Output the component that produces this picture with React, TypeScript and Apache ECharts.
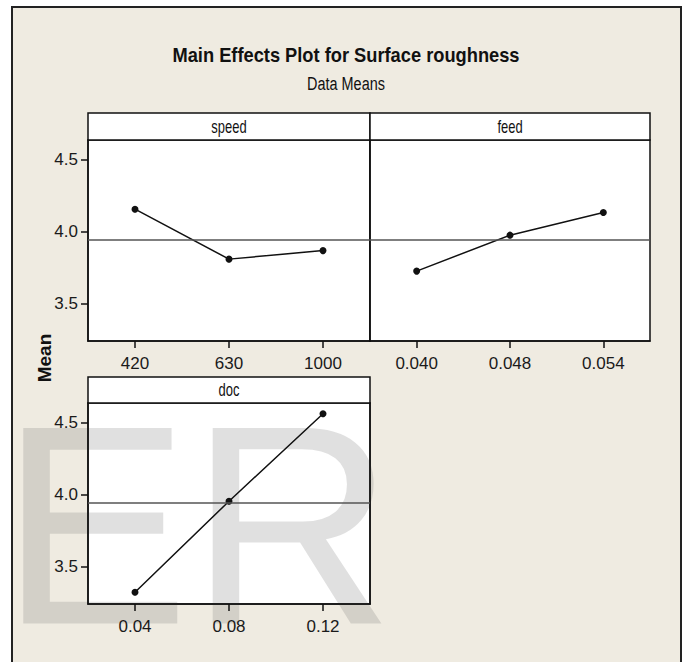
import React, { useEffect, useRef } from 'react';
import * as echarts from 'echarts';

// ---- data ----
const speedLevels = ['420', '630', '1000'];
const speedMeans = [4.155, 3.809, 3.868];
const feedLevels = ['0.040', '0.048', '0.054'];
const feedMeans = [3.726, 3.975, 4.132];
const docLevels = ['0.04', '0.08', '0.12'];
const docMeans = [3.323, 3.954, 4.56];
const panelNames = ['speed', 'feed', 'doc'];
const yTicks = [3.5, 4.0, 4.5];
const yMin = 3.242;
const yMax = 4.634;

const grandMean = speedMeans.reduce((a, b) => a + b, 0) / speedMeans.length;

const SANS = "'Liberation Sans', Arial, sans-serif";
const INK = '#111';

export default function App() {
  const ref = useRef<HTMLDivElement>(null);
  useEffect(() => {
    const chart = echarts.init(ref.current!, null, { renderer: 'svg' });
    const panels = [
      { levels: speedLevels, means: speedMeans, plot: { left: 88, top: 140, width: 282, height: 201 }, head: { left: 88, top: 113, width: 282, height: 27 }, yLabels: true },
      { levels: feedLevels, means: feedMeans, plot: { left: 370, top: 140, width: 280, height: 201 }, head: { left: 370, top: 113, width: 280, height: 27 }, yLabels: false },
      { levels: docLevels, means: docMeans, plot: { left: 88, top: 403, width: 282, height: 201 }, head: { left: 88, top: 377, width: 282, height: 26 }, yLabels: true },
    ];
    const lineStyle = { color: INK, width: 1.5 };
    const grid: any[] = [];
    panels.forEach((p) => grid.push({ ...p.plot, show: true, backgroundColor: '#fff', borderColor: INK, borderWidth: 1.5, z: 0 }));
    panels.forEach((p) => grid.push({ ...p.head, show: true, backgroundColor: '#fff', borderColor: INK, borderWidth: 1.5, z: 0 }));

    const labelStyle = { fontSize: 17, fontFamily: SANS, color: '#1a1a1a' };
    const xAxis = panels.map((p, i) => ({
      type: 'category',
      gridIndex: i,
      data: p.levels,
      boundaryGap: true,
      z: 2,
      axisLine: { show: true, lineStyle },
      axisTick: { show: true, alignWithLabel: true, length: 7, lineStyle },
      axisLabel: { show: true, margin: 14, ...labelStyle },
      splitLine: { show: false },
    }));
    const yAxis: any[] = panels.map((p, i) => ({
      type: 'value',
      gridIndex: i,
      min: yMin,
      max: yMax,
      z: 2,
      axisLine: { show: true, lineStyle },
      axisTick: { show: p.yLabels, length: 7, customValues: yTicks, lineStyle },
      axisLabel: { show: p.yLabels, customValues: yTicks, margin: 10, ...labelStyle, formatter: (v: number) => v.toFixed(1) },
      splitLine: { show: false },
    }));
    // right border of the doc panel, drawn above the watermark
    yAxis.push({
      type: 'value', gridIndex: 2, position: 'right', min: yMin, max: yMax, z: 2,
      axisLine: { show: true, lineStyle }, axisTick: { show: false }, axisLabel: { show: false }, splitLine: { show: false },
    });

    const series = panels.map((p, i) => ({
      type: 'line',
      xAxisIndex: i,
      yAxisIndex: i,
      data: p.means,
      z: 3,
      symbol: 'circle',
      symbolSize: 7,
      itemStyle: { color: INK },
      lineStyle: { color: INK, width: 1.5 },
      markLine: {
        silent: true,
        symbol: 'none',
        label: { show: false },
        lineStyle: { color: '#555', width: 1.5, type: 'solid' },
        data: [{ yAxis: grandMean }],
      },
    }));

    const graphic: any[] = [
      {
        type: 'text', x: 0, y: 525, z: 1, silent: true,
        style: { text: 'ER', font: `284px ${SANS}`, lineHeight: 230, fill: 'rgba(100,100,100,0.2)', align: 'left', verticalAlign: 'middle' },
      },
      {
        type: 'text', x: 346, y: 54.5, z: 5, scaleX: 0.87,
        style: { text: 'Main Effects Plot for Surface roughness', font: `bold 21px ${SANS}`, fill: '#111', align: 'center', verticalAlign: 'middle' },
      },
      {
        type: 'text', x: 346, y: 83.5, z: 5, scaleX: 0.76,
        style: { text: 'Data Means', font: `19px ${SANS}`, fill: '#111', align: 'center', verticalAlign: 'middle' },
      },
      {
        type: 'text', x: 44, y: 358, z: 5, rotation: Math.PI / 2,
        style: { text: 'Mean', font: `bold 19px ${SANS}`, fill: '#111', align: 'center', verticalAlign: 'middle' },
      },
    ];
    panels.forEach((p, i) => {
      graphic.push({
        type: 'text', x: p.head.left + p.head.width / 2, y: p.head.top + p.head.height / 2, z: 5, scaleX: 0.72,
        style: { text: panelNames[i], font: `18px ${SANS}`, fill: '#111', align: 'center', verticalAlign: 'middle' },
      });
    });

    chart.setOption({
      animation: false,
      grid,
      xAxis,
      yAxis,
      series,
      graphic,
    });
    return () => chart.dispose();
  }, []);
  return (
    <div style={{ position: 'fixed', left: 0, top: 0, width: 685, height: 662, background: '#fff', overflow: 'hidden' }}>
      <div style={{ position: 'absolute', left: 11, top: 6, width: 671, height: 700, boxSizing: 'border-box', border: '2px solid #222', background: '#EFEBE1' }} />
      <div ref={ref} style={{ position: 'absolute', left: 0, top: 0, width: 685, height: 662 }} />
    </div>
  );
}
